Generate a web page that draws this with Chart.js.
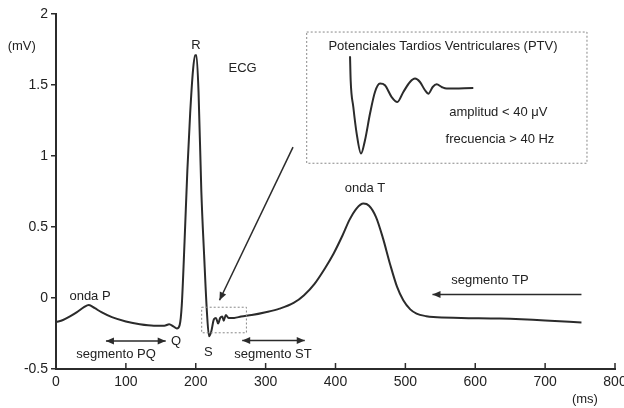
<!DOCTYPE html>
<html>
<head>
<meta charset="utf-8">
<script src="https://cdn.jsdelivr.net/npm/chart.js@4"></script>
<style>
  html, body { margin: 0; padding: 0; background: #fff; }
  #wrap { width: 624px; height: 408px; }
</style>
</head>
<body>
<div id="wrap"><canvas id="ecg"></canvas></div>
<script>
// ECG trace (ms, mV)
const ecgTime = [0, 10, 20, 30, 40, 47, 55, 65, 80, 100, 120, 140, 155, 162, 168, 173, 177, 180, 184, 188, 192, 196, 199, 201, 204, 208, 212, 216, 219, 222, 226, 229, 232, 235, 238, 240, 243, 247, 255, 265, 280, 300, 320, 340, 355, 370, 385, 397, 410, 420, 430, 440, 448, 458, 468, 478, 488, 497, 507, 516, 530, 540, 580, 635, 700, 752];
const ecgVolt = [-0.17, -0.155, -0.13, -0.1, -0.065, -0.05, -0.07, -0.1, -0.135, -0.165, -0.185, -0.195, -0.195, -0.185, -0.2, -0.215, -0.19, -0.05, 0.4, 0.9, 1.3, 1.6, 1.71, 1.71, 1.45, 0.75, 0.3, -0.1, -0.27, -0.24, -0.15, -0.14, -0.18, -0.14, -0.13, -0.16, -0.12, -0.14, -0.14, -0.13, -0.12, -0.1, -0.075, -0.035, 0.02, 0.1, 0.21, 0.31, 0.44, 0.55, 0.63, 0.665, 0.65, 0.57, 0.42, 0.24, 0.08, -0.016, -0.08, -0.11, -0.128, -0.134, -0.14, -0.145, -0.158, -0.173];

// magnified late potentials, drawn inside the inset (same axes)
const ptvTime = [420.8, 421.7, 425.5, 430.3, 436.5, 442.2, 449.4, 456.5, 463.7, 470.8, 480.4, 488.5, 497.1, 506.6, 513.8, 520.9, 528.1, 532.9, 539.1, 544.8, 552, 559.1, 597.2];
const ptvVolt = [1.702, 1.533, 1.345, 1.158, 1.017, 1.111, 1.299, 1.451, 1.51, 1.498, 1.415, 1.38, 1.451, 1.521, 1.545, 1.521, 1.463, 1.439, 1.486, 1.505, 1.486, 1.475, 1.479];

const xTicks = [0, 100, 200, 300, 400, 500, 600, 700, 800];
const yTicks = [-0.5, 0, 0.5, 1, 1.5, 2];

// text labels: [text, x, y]
const labels = [
  ['R', 200.4, 1.78],
  ['ECG', 267, 1.615],
  ['onda P', 48.7, 0.012],
  ['Q', 171.7, -0.305],
  ['S', 218, -0.38],
  ['segmento PQ', 85.9, -0.396],
  ['segmento ST', 310.5, -0.396],
  ['onda T', 442.2, 0.77],
  ['segmento TP', 621, 0.125],
  ['Potenciales Tardios Ventriculares (PTV)', 553.8, 1.773],
  ['amplitud < 40 \u03bcV', 633, 1.31],
  ['frecuencia > 40 Hz', 635.4, 1.118],
  ['(mV)', -49, 1.77],
  ['(ms)', 757, -0.714]
];

// arrows: [x1, y1, x2, y2, double]  head at (x2, y2)
const arrows = [
  [157, -0.303, 71.5, -0.303, true],
  [356, -0.3, 266.5, -0.3, true],
  [752, 0.024, 538.8, 0.024, false],
  [339.2, 1.063, 234, -0.016, false]
];

// dotted boxes: [x1, y1, x2, y2]
const boxes = [
  [358.8, 1.873, 759.9, 0.949],
  [208.5, -0.065, 272.5, -0.245]
];

const FONT = 'Liberation Sans, Arial, Helvetica, sans-serif';
const INK = '#2b2b2b';

const extras = {
  id: 'extras',
  afterDraw(chart) {
    const ctx = chart.ctx, xs = chart.scales.x, ys = chart.scales.y;
    const px = v => xs.getPixelForValue(v), py = v => ys.getPixelForValue(v);
    ctx.save();

    // x tick marks point inward
    ctx.strokeStyle = INK;
    ctx.lineWidth = 1.5;
    const b = chart.chartArea.bottom;
    xTicks.forEach(t => {
      if (t === 0) return;
      ctx.beginPath();
      ctx.moveTo(px(t), b);
      ctx.lineTo(px(t), b - 6);
      ctx.stroke();
    });

    // dotted boxes
    ctx.strokeStyle = '#888';
    ctx.lineWidth = 1;
    ctx.setLineDash([2, 2]);
    boxes.forEach(([x1, y1, x2, y2]) => {
      ctx.strokeRect(px(x1), py(y1), px(x2) - px(x1), py(y2) - py(y1));
    });
    ctx.setLineDash([]);

    // arrows
    const head = (x, y, ang) => {
      ctx.beginPath();
      ctx.moveTo(x, y);
      ctx.lineTo(x - 8 * Math.cos(ang) + 3.5 * Math.sin(ang), y - 8 * Math.sin(ang) - 3.5 * Math.cos(ang));
      ctx.lineTo(x - 8 * Math.cos(ang) - 3.5 * Math.sin(ang), y - 8 * Math.sin(ang) + 3.5 * Math.cos(ang));
      ctx.closePath();
      ctx.fill();
    };
    ctx.strokeStyle = INK;
    ctx.fillStyle = INK;
    ctx.lineWidth = 1.5;
    arrows.forEach(([x1, y1, x2, y2, dbl]) => {
      const a = px(x1), b1 = py(y1), c = px(x2), d = py(y2);
      ctx.beginPath();
      ctx.moveTo(a, b1);
      ctx.lineTo(c, d);
      ctx.stroke();
      const ang = Math.atan2(d - b1, c - a);
      head(c, d, ang);
      if (dbl) head(a, b1, ang + Math.PI);
    });

    // text
    ctx.fillStyle = '#222';
    ctx.font = '13px ' + FONT;
    ctx.textAlign = 'center';
    ctx.textBaseline = 'middle';
    labels.forEach(([txt, x, y]) => ctx.fillText(txt, px(x), py(y)));

    ctx.restore();
  }
};

new Chart(document.getElementById('ecg'), {
  type: 'line',
  data: {
    datasets: [
      {
        data: ecgTime.map((t, i) => ({ x: t, y: ecgVolt[i] })),
        borderColor: INK,
        borderWidth: 2,
        pointRadius: 0,
        cubicInterpolationMode: 'monotone'
      },
      {
        data: ptvTime.map((t, i) => ({ x: t, y: ptvVolt[i] })),
        borderColor: INK,
        borderWidth: 2,
        pointRadius: 0,
        cubicInterpolationMode: 'monotone'
      }
    ]
  },
  options: {
    responsive: true,
    maintainAspectRatio: false,
    animation: false,
    layout: { padding: { top: 14, right: 9, bottom: 0, left: 0 } },
    plugins: { legend: { display: false }, tooltip: { enabled: false } },
    scales: {
      x: {
        type: 'linear',
        min: 0,
        max: 800,
        afterBuildTicks: s => { s.ticks = xTicks.map(v => ({ value: v })); },
        afterFit: s => { s.height = 39; s.paddingLeft = 0; s.paddingRight = 0; },
        grid: { display: false, drawTicks: false },
        border: { display: true, color: INK, width: 2 },
        ticks: { color: '#222', padding: 5, maxRotation: 0, callback: v => String(v), font: { family: FONT, size: 14 } }
      },
      y: {
        min: -0.5,
        max: 2,
        afterBuildTicks: s => { s.ticks = yTicks.map(v => ({ value: v })); },
        afterFit: s => { s.width = 56; },
        grid: { drawOnChartArea: false, tickLength: 5, color: INK, lineWidth: 1.5 },
        border: { display: true, color: INK, width: 2 },
        ticks: { color: '#222', padding: 3, callback: v => String(v), font: { family: FONT, size: 14 } }
      }
    }
  },
  plugins: [extras]
});
</script>
</body>
</html>
